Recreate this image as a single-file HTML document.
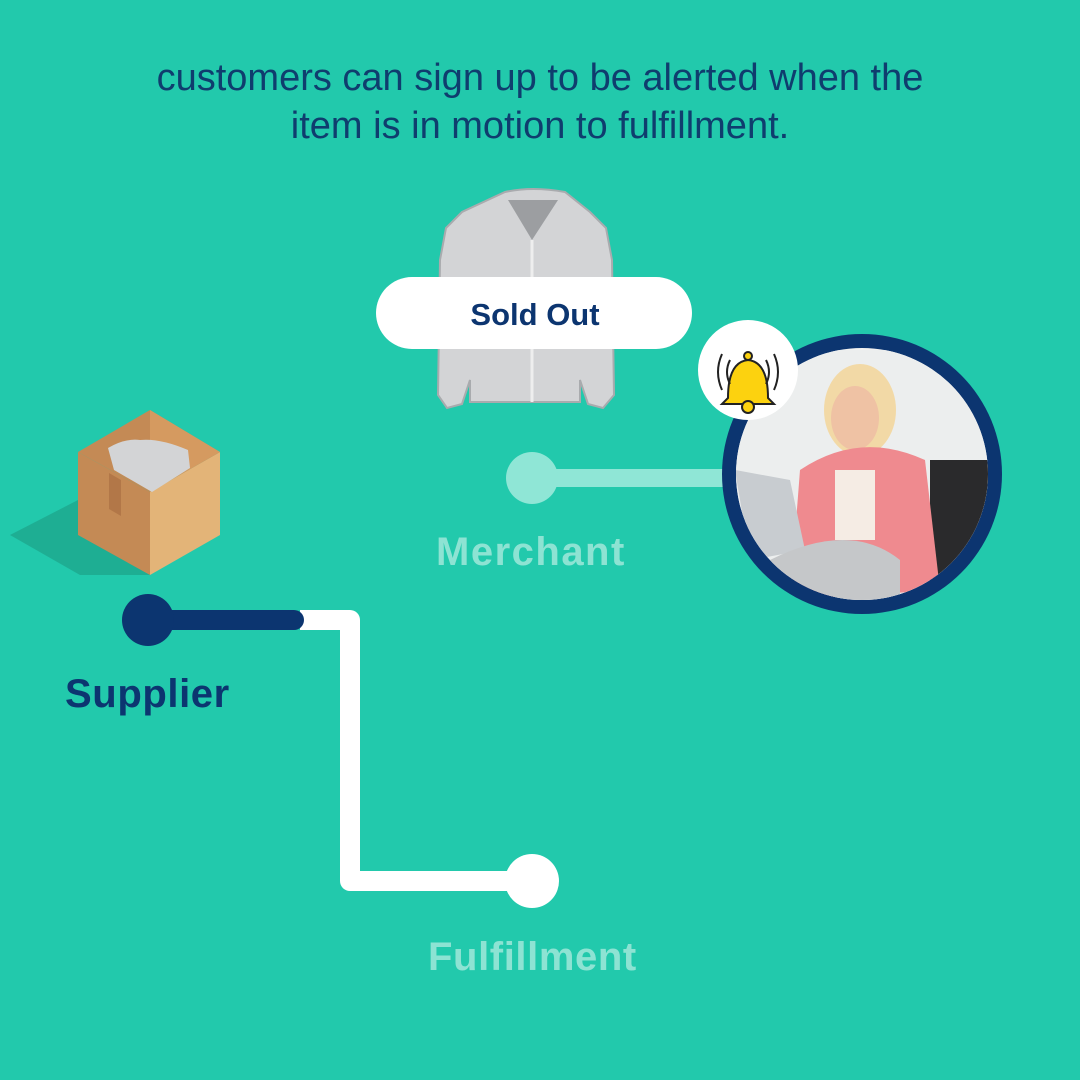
<!DOCTYPE html>
<html><head><meta charset="utf-8"><style>
html,body{margin:0;padding:0}
body{width:1080px;height:1080px;background:#22c9ac;position:relative;overflow:hidden;font-family:"Liberation Sans",Arial,sans-serif}
.t{position:absolute;left:0;width:1080px;text-align:center;color:#0f3d6e;font-size:38px;line-height:40px}
.lbl{position:absolute;font-weight:bold;font-size:40px;letter-spacing:0.6px}
</style></head><body>
<div class="t" style="top:58px">customers can sign up to be alerted when the</div>
<div class="t" style="top:106px">item is in motion to fulfillment.</div>
<svg width="1080" height="1080" style="position:absolute;left:0;top:0">
<defs><clipPath id="cp"><circle cx="862" cy="474" r="126"/></clipPath></defs>
<path d="M505 192 Q532 186 565 192 L590 212 L606 228 L612 260 L614 395 L603 408 L588 404 L580 380 L580 402 L470 402 L470 380 L462 404 L447 408 L438 395 L440 260 L446 228 L462 212 Z" fill="#d3d4d6" stroke="#a9abae" stroke-width="2"/>
<path d="M508 200 L532 240 L558 200 Z" fill="#9c9ea1"/>
<line x1="532" y1="240" x2="532" y2="402" stroke="#eee" stroke-width="3"/>
<rect x="376" y="277" width="316" height="72" rx="36" fill="#fff"/>
<text x="535" y="325" text-anchor="middle" font-family="Liberation Sans" font-weight="bold" font-size="31" fill="#0c3570">Sold Out</text>
<line x1="532" y1="478" x2="730" y2="478" stroke="#8fe6d6" stroke-width="18"/>
<circle cx="532" cy="478" r="26" fill="#8fe6d6"/>
<circle cx="862" cy="474" r="140" fill="#0c3570"/>
<circle cx="862" cy="474" r="126" fill="#f1f1f0"/>
<g clip-path="url(#cp)">
<rect x="730" y="350" width="260" height="250" fill="#eceeee"/>
<rect x="930" y="460" width="60" height="140" fill="#2a2a2c"/>
<ellipse cx="860" cy="410" rx="36" ry="46" fill="#f2d9a6"/>
<ellipse cx="855" cy="418" rx="24" ry="32" fill="#efc2a4"/>
<path d="M800 470 Q860 430 925 460 L940 590 L790 600 Z" fill="#ef8a8f"/>
<rect x="835" y="470" width="40" height="70" fill="#f5ece4"/>
<path d="M735 470 L790 480 L805 550 L750 560 Z" fill="#c8ccd0"/>
<path d="M770 560 Q850 520 900 560 L900 600 L760 600 Z" fill="#c5c7c9"/>
</g>
<circle cx="748" cy="370" r="50" fill="#fff"/>
<path d="M728 398 Q728 362 748 360 Q768 362 768 398 L774 404 L722 404 Z" fill="#fcd20f" stroke="#222" stroke-width="2"/>
<circle cx="748" cy="407" r="6" fill="#fcd20f" stroke="#222" stroke-width="2"/>
<circle cx="748" cy="356" r="4" fill="#fcd20f" stroke="#222" stroke-width="2"/>
<path d="M730 360 Q724 372 730 384 M722 354 Q714 372 722 390 M766 360 Q772 372 766 384 M774 354 Q782 372 774 390" stroke="#222" stroke-width="2" fill="none"/>
<path d="M10 535 L80 575 L150 575 L78 500 Z" fill="#1eae93"/>
<path d="M78 452 L150 492 L150 575 L78 535 Z" fill="#c48a55"/>
<path d="M150 492 L220 452 L220 535 L150 575 Z" fill="#e3b478"/>
<path d="M78 452 L150 410 L220 452 L150 492 Z" fill="#c48a55"/>
<path d="M150 410 L220 452 L150 492 Z" fill="#d59a60"/>
<path d="M108 448 Q125 438 140 440 Q160 438 188 450 L190 468 L152 492 L114 470 Z" fill="#d3d4d6"/>
<path d="M109 473 L121 480 L121 516 L109 509 Z" fill="#b27748"/>
<path d="M300 620 L350 620 L350 881 L532 881" stroke="#fff" stroke-width="20" fill="none" stroke-linejoin="round"/>
<circle cx="532" cy="881" r="27" fill="#fff"/>
<line x1="148" y1="620" x2="294" y2="620" stroke="#0c3570" stroke-width="20" stroke-linecap="round"/>
<circle cx="148" cy="620" r="26" fill="#0c3570"/>
</svg>
<div class="lbl" style="left:436px;top:530px;color:#8de3d3;letter-spacing:1.5px">Merchant</div>
<div class="lbl" style="left:65px;top:672px;color:#0c3570">Supplier</div>
<div class="lbl" style="left:428px;top:935px;color:#8de3d3">Fulfillment</div>
</body></html>
